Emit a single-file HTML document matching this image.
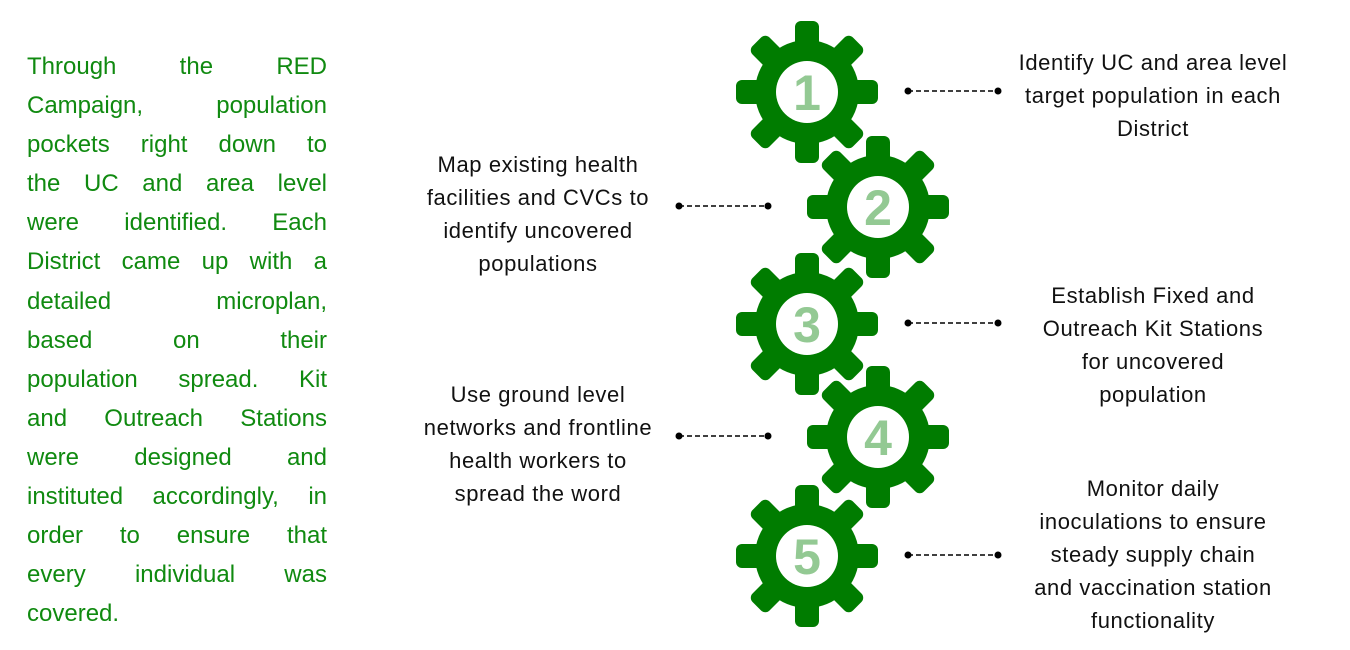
<!DOCTYPE html>
<html><head><style>
body{margin:0;width:1350px;height:650px;background:#fff;position:relative;overflow:hidden;font-family:"Liberation Sans",sans-serif}
#left{position:absolute;left:27px;top:47px;width:300px;color:#108a10;font-size:24px;line-height:39.1px}
#left div{text-align:justify;text-align-last:justify;white-space:nowrap;height:39.1px}
#left div.l{text-align-last:left}
.t{position:absolute;color:#111;font-size:22px;letter-spacing:0.6px;line-height:33px;text-align:center}
</style></head><body>
<div id="left">
<div>Through the RED</div>
<div>Campaign, population</div>
<div>pockets right down to</div>
<div>the UC and area level</div>
<div>were identified. Each</div>
<div>District came up with a</div>
<div>detailed microplan,</div>
<div>based on their</div>
<div>population spread. Kit</div>
<div>and Outreach Stations</div>
<div>were designed and</div>
<div>instituted accordingly, in</div>
<div>order to ensure that</div>
<div>every individual was</div>
<div class="l">covered.</div>
</div>
<div class="t" style="left:1003px;top:46px;width:300px">Identify UC and area level<br>target population in each<br>District</div>
<div class="t" style="left:388px;top:148px;width:300px">Map existing health<br>facilities and CVCs to<br>identify uncovered<br>populations</div>
<div class="t" style="left:1003px;top:279px;width:300px">Establish Fixed and<br>Outreach Kit Stations<br>for uncovered<br>population</div>
<div class="t" style="left:388px;top:378px;width:300px">Use ground level<br>networks and frontline<br>health workers to<br>spread the word</div>
<div class="t" style="left:1003px;top:472px;width:300px">Monitor daily<br>inoculations to ensure<br>steady supply chain<br>and vaccination station<br>functionality</div>
<svg width="1350" height="650" style="position:absolute;left:0;top:0">
<defs>
<g id="gear">
<g fill="#007c00">
<circle r="52"/>
<g id="th"><rect x="-12" y="-71" width="24" height="30" rx="6"/></g>
<use href="#th" transform="rotate(45)"/><use href="#th" transform="rotate(90)"/><use href="#th" transform="rotate(135)"/>
<use href="#th" transform="rotate(180)"/><use href="#th" transform="rotate(225)"/><use href="#th" transform="rotate(270)"/><use href="#th" transform="rotate(315)"/>
</g>
<circle r="31" fill="#fff"/>
</g>
</defs>
<g font-family="Liberation Sans" font-weight="bold" font-size="50" fill="#93c993" text-anchor="middle">
<use href="#gear" x="807" y="92"/><text x="807" y="110">1</text>
<use href="#gear" x="878" y="207"/><text x="878" y="225">2</text>
<use href="#gear" x="807" y="324"/><text x="807" y="342">3</text>
<use href="#gear" x="878" y="437"/><text x="878" y="455">4</text>
<use href="#gear" x="807" y="556"/><text x="807" y="574">5</text>
</g>
<g stroke="#000" stroke-width="1.6" stroke-dasharray="5,3" fill="none">
<line x1="908" y1="91" x2="998" y2="91"/>
<line x1="679" y1="206" x2="768" y2="206"/>
<line x1="908" y1="323" x2="998" y2="323"/>
<line x1="679" y1="436" x2="768" y2="436"/>
<line x1="908" y1="555" x2="998" y2="555"/>
</g>
<g fill="#000">
<circle cx="908" cy="91" r="3.5"/><circle cx="998" cy="91" r="3.5"/>
<circle cx="679" cy="206" r="3.5"/><circle cx="768" cy="206" r="3.5"/>
<circle cx="908" cy="323" r="3.5"/><circle cx="998" cy="323" r="3.5"/>
<circle cx="679" cy="436" r="3.5"/><circle cx="768" cy="436" r="3.5"/>
<circle cx="908" cy="555" r="3.5"/><circle cx="998" cy="555" r="3.5"/>
</g>
</svg>
</body></html>
